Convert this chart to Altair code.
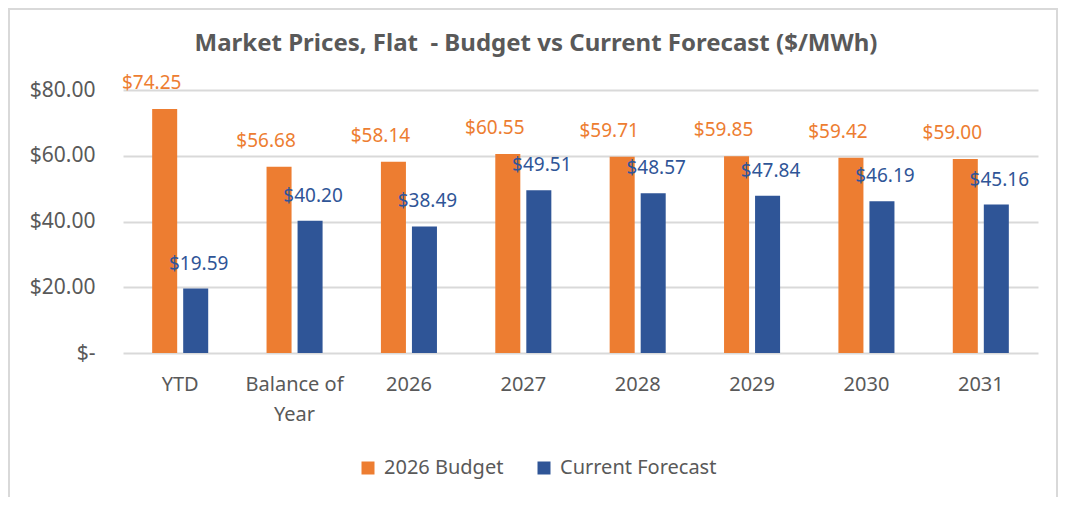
import altair as alt
import pandas as pd

categories = ["YTD", "Balance of Year", "2026", "2027", "2028", "2029", "2030", "2031"]
budget = [74.25, 56.68, 58.14, 60.55, 59.71, 59.85, 59.42, 59.00]
forecast = [19.59, 40.20, 38.49, 49.51, 48.57, 47.84, 46.19, 45.16]
series_names = ["2026 Budget", "Current Forecast"]
y_ticks = [0, 20, 40, 60, 80]
title_text = "Market Prices, Flat\u00a0\u00a0- Budget vs Current Forecast ($/MWh)"

rows = []
for c, b, f in zip(categories, budget, forecast):
    rows.append({"cat": c, "series": series_names[0], "value": b})
    rows.append({"cat": c, "series": series_names[1], "value": f})
df = pd.DataFrame(rows)

FONT = "Noto Sans"
GRAY = "#595959"
GRID = "#D9D9D9"
colors = ["#ED7D31", "#2F5597"]

x_enc = alt.X(
    "cat:N", sort=categories,
    scale=alt.Scale(paddingInner=0.51, paddingOuter=0.255),
    axis=alt.Axis(
        title=None, labelAngle=0, domain=False, ticks=False, grid=False,
        labelExpr="datum.label == 'Balance of Year' ? ['Balance of', 'Year'] : datum.label",
        labelFontSize=20, labelColor=GRAY, labelFont=FONT, labelPadding=21,
        labelLineHeight=30,
    ),
)
y_enc = alt.Y(
    "value:Q",
    scale=alt.Scale(domain=[0, 80], nice=False),
    axis=alt.Axis(
        title=None, values=y_ticks, domain=False, ticks=False, grid=True,
        gridColor=GRID, gridWidth=2,
        labelExpr="datum.value == 0 ? '$-\u00a0\u00a0' : '$' + format(datum.value, '.2f')",
        labelFontSize=21, labelColor=GRAY, labelFont=FONT, labelPadding=28,
    ),
)
xoff = alt.XOffset("series:N", sort=series_names,
                   scale=alt.Scale(paddingInner=0.1935, paddingOuter=0))

bars = alt.Chart(df).mark_bar().encode(
    x=x_enc, y=y_enc, xOffset=xoff,
    color=alt.Color(
        "series:N", sort=series_names,
        scale=alt.Scale(domain=series_names, range=colors),
        legend=alt.Legend(
            orient="none", legendX=235, legendY=368, direction="horizontal",
            title=None, symbolType="square", symbolSize=169, symbolStrokeWidth=0,
            labelFontSize=20, labelColor=GRAY, labelFont=FONT, labelOffset=6,
            columnPadding=30, padding=0,
        ),
    ),
)

def labels(series, color, dx, dy):
    return (
        alt.Chart(df)
        .transform_filter(alt.datum.series == series)
        .transform_calculate(label="'$' + format(datum.value, '.2f')")
        .mark_text(color=color, font=FONT, fontSize=19, dx=dx, dy=dy,
                   align="center", baseline="middle")
        .encode(x=x_enc, y=y_enc, xOffset=xoff, text="label:N")
    )

text_b = labels(series_names[0], colors[0], -13, -26)
text_f = labels(series_names[1], colors[1], 3, -25)

title = alt.Chart(pd.DataFrame({"t": [title_text]})).mark_text(
    font=FONT, fontSize=24, fontWeight="bold", color=GRAY,
    align="center", baseline="middle",
).encode(text="t:N", x=alt.value(413), y=alt.value(-46))

border = alt.Chart(pd.DataFrame({"b": [1]})).mark_rect(
    fillOpacity=0, stroke=GRID, strokeWidth=2,
).encode(x=alt.value(-114), x2=alt.value(934), y=alt.value(-81), y2=alt.value(700))

chart = alt.layer(border, title, bars, text_b, text_f).properties(
    width=915, height=263,
    autosize=alt.AutoSizeParams(type="none"),
    padding={"left": 115, "top": 82, "right": 20, "bottom": 144},
    background="white",
).configure_view(stroke="transparent")

chart.save("out.html", embed_options={"renderer": "svg", "actions": False})
